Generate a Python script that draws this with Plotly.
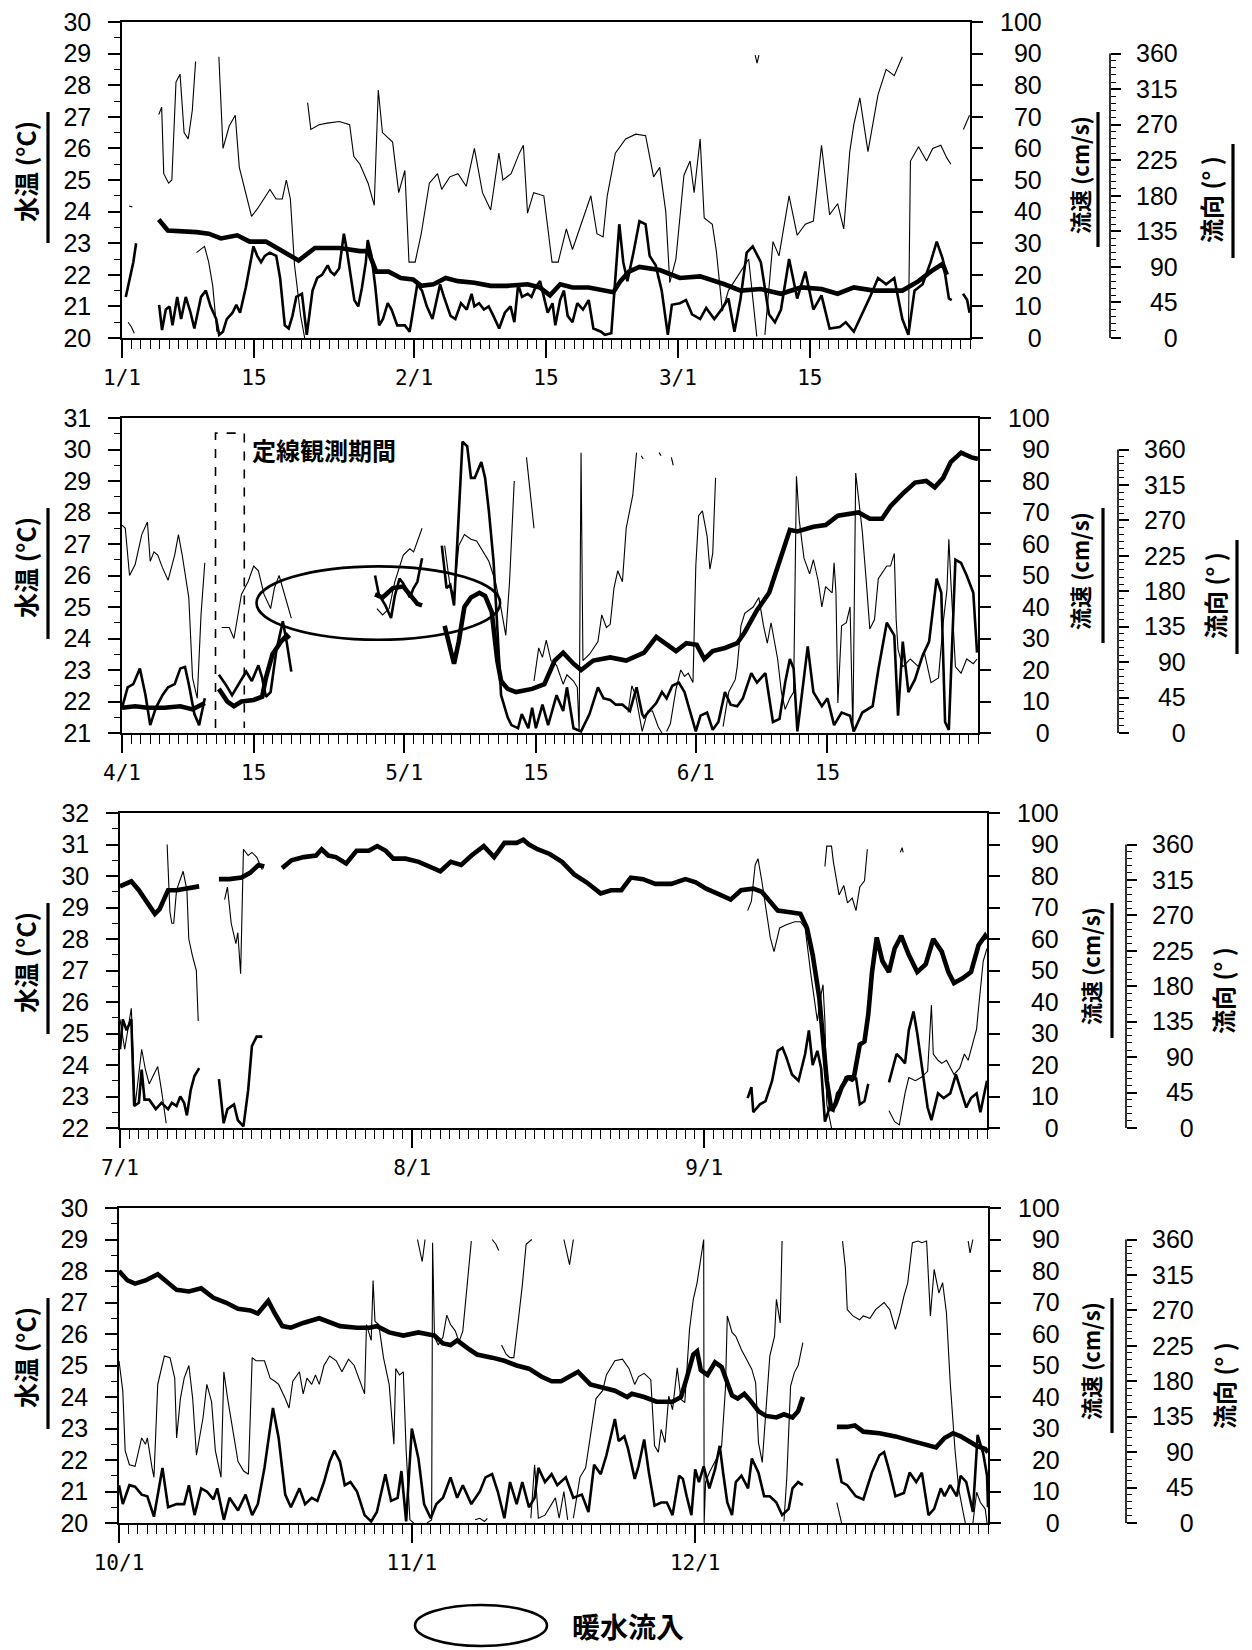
import plotly.graph_objects as go

# ---------------- DATA ----------------
# x = days since first day of quarter; gaps marked with None
p1_ticks = [0, 14, 31, 45, 59, 73]
p1_ticktext = ["1/1", "15", "2/1", "15", "3/1", "15"]
p2_ticks = [0, 14, 30, 44, 61, 75]
p2_ticktext = ["4/1", "15", "5/1", "15", "6/1", "15"]
p3_ticks = [0, 31, 62]
p3_ticktext = ["7/1", "8/1", "9/1"]
p4_ticks = [0, 31, 61]
p4_ticktext = ["10/1", "11/1", "12/1"]

temp_ticks_lo = [20, 21, 22, 20]
speed_ticks = [0, 10, 20, 30, 40, 50, 60, 70, 80, 90, 100]
dir_ticks = [0, 45, 90, 135, 180, 225, 270, 315, 360]

# water temperature (deg C)
p1_temp = [(3.90, 23.75), (4.86, 23.4), (7.90, 23.35), (9.20, 23.3), (10.50, 23.15), (12.23, 23.25), (13.54, 23.05),
           (15.27, 23.05), (17.01, 22.75), (18.74, 22.45), (20.48, 22.85), (23.08, 22.85), (25.25, 22.75), (26.12, 22.75),
           (26.98, 22.1), (28.29, 22.1), (29.59, 21.9), (30.89, 21.85), (31.76, 21.65), (33.06, 21.7), (34.36, 21.9),
           (35.66, 21.8), (37.40, 21.75), (39.13, 21.65), (40.87, 21.65), (43.04, 21.7), (44.34, 21.6), (45.42, 21.35),
           (46.51, 21.7), (47.81, 21.6), (49.54, 21.6), (51.28, 21.5), (52.15, 21.45), (52.9, 21.8), (53.8, 22.1),
           (54.92, 22.25), (57.07, 22.15), (59.21, 21.9), (61.36, 21.95), (63.94, 21.7), (65.65, 21.5), (67.8, 21.55),
           (69.94, 21.4), (72.09, 21.6), (74.24, 21.55), (75.95, 21.4), (77.67, 21.6), (79.82, 21.5), (82.82, 21.5),
           (84.54, 21.8), (85.82, 22.1), (87.11, 22.35), (87.54, 22.0)]
p2_temp = [(0, 21.8), (1.4, 21.85), (2.7, 21.8), (4.5, 21.8), (6.2, 21.85), (7.5, 21.75), (8.8, 21.95), None,
           (10.3, 22.4), (11.2, 22.0), (11.9, 21.85), (12.7, 22.0), (14.0, 22.05), (14.9, 22.15), (15.3, 22.75),
           (16.0, 23.5), (16.9, 23.9), (17.5, 24.1), (17.8, 24.0), None,
           (26.9, 25.4), (27.7, 25.3), (28.8, 25.6), (29.9, 25.65), (30.6, 25.4), (31.4, 25.1), (31.9, 25.05), None,
           (34.3, 24.4), (34.9, 23.7), (35.3, 23.2), (35.8, 23.9), (36.4, 25.0), (37.1, 25.3), (38.0, 25.45),
           (38.6, 25.35), (39.3, 24.85), (39.9, 23.3), (40.3, 22.65), (41.0, 22.4), (41.9, 22.3), (43.6, 22.4),
           (44.9, 22.55), (46.0, 23.3), (46.9, 23.55), (48.0, 23.2), (48.8, 23.0), (50.1, 23.3), (51.9, 23.4),
           (53.6, 23.3), (55.5, 23.55), (56.8, 24.05), (57.7, 23.85), (58.9, 23.6), (60.0, 23.85), (61.1, 23.8),
           (61.9, 23.35), (62.8, 23.6), (64.1, 23.7), (65.4, 23.85), (66.2, 24.2), (67.5, 24.9), (68.8, 25.45),
           (70.1, 26.7), (71.0, 27.45), (71.8, 27.4), (72.7, 27.5), (73.5, 27.55), (74.8, 27.6), (76.1, 27.9),
           (78.3, 28.0), (79.5, 27.8), (80.8, 27.8), (81.7, 28.2), (83.0, 28.6), (84.3, 28.95), (85.5, 29.0),
           (86.4, 28.8), (87.3, 29.1), (88.1, 29.6), (89.2, 29.9), (90.3, 29.75), (91.0, 29.7)]
p3_temp = [(0, 29.67), (1.2, 29.83), (2.0, 29.55), (2.9, 29.15), (3.7, 28.8), (4.2, 28.95), (5.1, 29.55), (6.0, 29.55),
           (7.3, 29.6), (8.4, 29.67), None,
           (10.5, 29.9), (11.6, 29.9), (12.9, 29.95), (13.8, 30.1), (14.7, 30.35), (15.3, 30.3), None,
           (17.2, 30.25), (18.2, 30.5), (19.5, 30.6), (20.8, 30.65), (21.4, 30.85), (22.1, 30.65), (22.9, 30.6),
           (24.0, 30.4), (25.1, 30.8), (26.4, 30.8), (27.3, 30.95), (28.2, 30.8), (29.0, 30.55), (30.3, 30.55),
           (31.7, 30.45), (33.0, 30.3), (34.0, 30.15), (35.1, 30.45), (36.2, 30.35), (37.3, 30.65), (38.6, 30.95),
           (39.7, 30.6), (40.8, 31.05), (42.1, 31.05), (42.8, 31.15), (43.4, 31.0), (44.3, 30.85), (45.6, 30.7),
           (46.9, 30.45), (48.2, 30.05), (49.5, 29.8), (51.0, 29.45), (52.1, 29.55), (53.2, 29.55), (54.2, 29.95),
           (55.5, 29.9), (56.8, 29.75), (58.5, 29.75), (60.0, 29.9), (61.1, 29.8), (62.2, 29.6), (63.7, 29.4),
           (64.8, 29.25), (65.9, 29.55), (67.2, 29.6), (68.1, 29.5), (69.0, 29.2), (69.8, 28.9), (71.1, 28.85),
           (72.2, 28.8), (72.9, 28.35), (73.5, 27.5), (74.2, 26.15), (74.6, 24.85), (75.0, 23.5), (75.5, 22.55),
           (75.9, 22.75), (76.6, 23.3), (77.2, 23.6), (77.9, 23.65), (78.5, 24.65), (79.0, 24.75), (79.4, 25.6),
           (79.8, 26.95), (80.3, 28.05), (80.9, 27.3), (81.6, 26.95), (82.2, 27.7), (82.9, 28.1), (83.7, 27.5),
           (84.6, 26.95), (85.5, 27.2), (86.3, 28.0), (87.2, 27.6), (87.9, 26.95), (88.5, 26.6), (89.4, 26.75),
           (90.3, 26.95), (91.1, 27.8), (91.8, 28.1), (92.0, 28.0)]
p4_temp = [(0, 28.0), (0.9, 27.7), (1.7, 27.6), (2.8, 27.7), (4.1, 27.9), (5.2, 27.65), (6.1, 27.4), (7.4, 27.35),
           (8.7, 27.45), (10.0, 27.15), (11.3, 27.0), (12.6, 26.8), (13.9, 26.75), (14.7, 26.65), (15.8, 27.05),
           (16.5, 26.65), (17.3, 26.25), (18.2, 26.2), (19.5, 26.35), (21.2, 26.5), (22.1, 26.4), (23.4, 26.25),
           (25.2, 26.2), (26.5, 26.2), (27.3, 26.25), (28.6, 26.05), (30.1, 25.95), (31.7, 26.05), (33.4, 25.95),
           (34.3, 25.7), (35.1, 25.65), (35.8, 25.8), (36.9, 25.55), (37.9, 25.35), (39.5, 25.25), (40.8, 25.15),
           (42.1, 25.0), (43.4, 24.9), (44.7, 24.65), (45.8, 24.5), (46.8, 24.5), (47.9, 24.7), (48.6, 24.8),
           (49.9, 24.4), (51.2, 24.3), (52.5, 24.2), (53.8, 24.0), (54.3, 24.1), (55.6, 24.0), (56.9, 23.85),
           (58.6, 23.85), (59.5, 24.0), (60.1, 24.6), (60.8, 25.35), (61.2, 25.45), (61.6, 24.85), (62.3, 24.7),
           (63.1, 25.1), (63.8, 24.95), (64.4, 24.4), (64.9, 24.05), (65.5, 23.95), (66.2, 24.1), (66.8, 23.9),
           (67.7, 23.55), (68.5, 23.4), (69.6, 23.35), (70.4, 23.45), (71.3, 23.35), (71.9, 23.55), (72.4, 24.0), None,
           (76.0, 23.05), (77.1, 23.05), (77.9, 23.1), (78.8, 22.9), (80.5, 22.85), (82.2, 22.75), (84.0, 22.6),
           (85.7, 22.45), (86.5, 22.4), (87.4, 22.7), (88.3, 22.85), (89.1, 22.75), (90.0, 22.6), (90.8, 22.45),
           (91.7, 22.35), (92.0, 22.25)]

# current speed (cm/s)
p1_speed = [(0.4, 13), (0.8, 18), (1.2, 24), (1.5, 30), None,
            (3.94, 10.5), (4.25, 2.5), (4.65, 9), (5.05, 10), (5.36, 4), (5.86, 13), (6.27, 6), (6.77, 13), (7.28, 8),
            (7.68, 3), (8.39, 13), (8.9, 15), (9.4, 10), (10.0, 6), (10.31, 1), (10.71, 2), (11.12, 6), (11.73, 8),
            (12.13, 10.5), (12.53, 8), (13.14, 16), (13.65, 24), (13.95, 29), (14.35, 26), (14.76, 24), (15.16, 26),
            (15.67, 27), (16.37, 26), (16.78, 19), (17.28, 4), (17.69, 3), (18.09, 7), (18.5, 13), (19.1, 14),
            (19.61, 1), (20.22, 15), (20.72, 19), (21.23, 20), (21.83, 23), (22.14, 21), (22.54, 20), (23.05, 22),
            (23.55, 33), (23.85, 28), (24.26, 20), (24.66, 12), (25.07, 10), (25.47, 16), (25.88, 24), (26.08, 31),
            (26.48, 26), (26.89, 16), (27.29, 4), (27.7, 6), (28.2, 11), (28.61, 9), (29.21, 4), (30.02, 4),
            (30.53, 2), (30.83, 8), (31.34, 17), (31.84, 15), (32.35, 10), (32.95, 6), (33.36, 12), (33.76, 17),
            (34.17, 13), (34.87, 7), (35.38, 6), (35.98, 11), (36.59, 9), (37.1, 14), (37.4, 10), (37.9, 11),
            (38.41, 9), (38.92, 10), (39.42, 7), (40.03, 3), (40.63, 8), (41.24, 10), (41.64, 5), (42.05, 17),
            (42.45, 13), (43.06, 14), (43.46, 13), (43.87, 16), (44.37, 18), (44.78, 13), (45.18, 8), (45.69, 11),
            (45.99, 4), (46.5, 12), (46.9, 15), (47.3, 7), (47.81, 5), (48.32, 11), (48.92, 9), (49.53, 12),
            (50.03, 3), (50.84, 2), (51.25, 1), (51.93, 1.5), (52.4, 20), (52.78, 36), (53.2, 24), (53.64, 18),
            (54.28, 27), (54.92, 37), (55.57, 36), (56.0, 26), (56.64, 23), (57.28, 15), (57.93, 1), (58.36, 10.5),
            (59.21, 11), (59.86, 12), (60.5, 7.5), (61.36, 6), (62.0, 9.5), (62.86, 6), (63.5, 8.5), (64.36, 12.5),
            (65.0, 2), (65.65, 12.5), (66.3, 27), (66.94, 29), (67.8, 24), (68.66, 7.5), (69.3, 5), (69.94, 9),
            (70.8, 25), (71.66, 12.5), (72.52, 21), (73.38, 9), (74.24, 13.5), (75.1, 3), (76.17, 3.5), (76.81, 5),
            (77.67, 2), (78.53, 7.5), (79.39, 13), (80.24, 19), (81.1, 17), (81.96, 19), (82.82, 6), (83.46, 1),
            (84.11, 15), (84.97, 17), (85.82, 24), (86.47, 30.5), (87.11, 25), (87.76, 12.5), (88.06, 12), None,
            (89.26, 14), (89.7, 12), (89.95, 8)]
p2_speed = [(0, 8), (0.6, 14.5), (1.2, 15.5), (1.9, 20.5), (2.5, 12), (3.0, 2.5), (3.6, 8), (4.3, 12), (4.9, 14.5),
            (5.6, 15.5), (6.2, 20.5), (6.7, 21), (7.1, 15.5), (7.7, 6), (8.2, 2.5), (8.6, 8), (8.8, 11), None,
            (10.3, 18.5), (11.0, 15.5), (11.7, 12), (12.3, 15), (13.2, 19.5), (13.8, 16.5), (14.5, 21.5), (14.9, 17.5),
            (15.3, 11.5), (15.8, 13), (16.4, 26), (17.1, 35.5), (17.5, 29), (18.0, 19.5), None,
            (26.9, 50), (27.3, 44), (28.0, 40.5), (28.6, 36.5), (29.0, 43.5), (29.5, 49), (29.9, 47.5), (30.6, 43),
            (31.0, 46), (31.4, 48), (31.9, 55.5), None,
            (34.0, 59.5), (34.5, 46), (34.9, 47), (35.3, 40.5), (35.8, 69.5), (36.2, 92.5), (36.7, 91), (37.1, 81),
            (37.5, 81), (38.2, 86), (38.6, 81), (39.0, 70.5), (39.5, 54.5), (39.9, 33.5), (40.3, 12), (41.0, 5),
            (41.4, 2.5), (42.1, 1.5), (42.5, 6), (43.2, 1.5), (43.6, 8), (44.0, 1.5), (44.7, 9), (45.3, 2.5),
            (46.2, 12), (46.9, 7), (47.3, 14.5), (48.0, 1.5), (48.8, 0.5), (49.7, 6), (50.6, 14.5), (51.2, 11),
            (51.9, 10.5), (52.5, 9), (53.2, 9), (54.0, 7), (54.7, 14.5), (55.3, 6), (55.5, 5), (56.2, 7.5),
            (56.8, 9.5), (57.4, 13), (57.9, 11), (58.5, 15), (59.2, 16), (59.8, 13), (60.4, 6.5), (61.0, 0.5),
            (61.5, 5.5), (62.2, 6.5), (62.8, 1), (63.4, 3.5), (64.1, 13), (64.7, 9), (65.4, 8.5), (66.0, 11),
            (66.9, 19), (67.5, 16), (68.4, 19), (68.8, 11), (69.2, 3.5), (69.9, 4.5), (70.5, 16), (71.0, 23.5),
            (71.4, 20.5), (71.8, 0.5), (72.5, 18), (72.9, 27.5), (73.5, 13), (74.4, 8.5), (75.0, 11), (75.7, 2.5),
            (76.5, 6.5), (77.4, 5.5), (77.8, 0.5), (78.7, 6.5), (79.8, 8.5), (80.4, 20), (81.3, 35), (82.1, 31),
            (82.5, 5.5), (83.0, 29), (83.6, 13), (84.3, 17), (85.1, 24.5), (85.8, 29), (86.6, 49), (87.1, 44.5),
            (87.5, 3.5), (87.9, 1), (88.6, 55), (89.2, 54), (89.8, 50), (90.5, 44.5), (90.9, 25.5)]
p3_speed = [(0, 25), (0.3, 34.5), (0.7, 31), (1.2, 34.5), (1.5, 7), (2.0, 8), (2.3, 18.5), (2.6, 9), (3.1, 9),
            (3.8, 6), (4.4, 8), (5.1, 6), (5.5, 8), (6.0, 7), (6.4, 10), (6.8, 8), (7.1, 4), (7.5, 12), (7.9, 16.5),
            (8.4, 19), None,
            (10.5, 15.5), (11.0, 1.5), (11.4, 6), (12.1, 7.5), (12.5, 2.5), (13.1, 0.5), (13.6, 12), (14.0, 26),
            (14.5, 29), (15.1, 29), None,
            (66.6, 9.5), (67.0, 13), (67.2, 5), (67.9, 7.5), (68.5, 8.5), (69.2, 15), (69.8, 24.5), (70.3, 25.5),
            (70.7, 22.5), (71.3, 17), (72.0, 15), (72.7, 23.5), (73.1, 31), (73.5, 20), (74.0, 24.5), (74.4, 19),
            (74.8, 2), (75.3, 6.5), (75.7, 5.5), (76.1, 11), (76.6, 13), (77.0, 16), (77.7, 15), (78.1, 16),
            (78.5, 7.5), (79.0, 8.5), (79.4, 14), None,
            (81.6, 14.5), (82.0, 19), (82.4, 23.5), (82.9, 22), (83.3, 20.5), (83.7, 31), (84.2, 37), (84.6, 30),
            (85.0, 21.5), (85.7, 6.5), (86.1, 2.5), (86.8, 11), (87.4, 9.5), (88.1, 11), (88.7, 17), (89.1, 13),
            (89.8, 6.5), (90.3, 9.5), (90.9, 11), (91.3, 5), (91.8, 13), (92.0, 15)]
p4_speed = [(0, 12), (0.4, 6), (1.1, 12), (1.7, 11.5), (2.4, 9), (3.0, 8.5), (3.7, 2), (4.6, 17.5), (5.2, 5), (6.1, 6),
            (6.9, 6), (7.4, 12), (8.0, 2.5), (8.7, 11), (9.3, 10), (10.0, 7.5), (10.4, 11), (11.1, 1), (11.7, 8),
            (12.6, 4), (13.4, 9), (14.1, 2.5), (14.7, 6), (15.4, 17.5), (16.3, 36.5), (16.9, 27), (17.6, 9), (18.2, 5),
            (19.1, 11), (19.7, 6), (20.4, 8), (21.0, 7), (21.7, 13), (22.3, 19.5), (22.8, 23), (23.4, 19.5),
            (23.9, 12), (24.5, 13), (25.2, 10), (26.0, 2.5), (26.7, 0.5), (27.3, 3.5), (28.2, 15.5), (28.8, 7),
            (29.5, 8), (29.9, 16.5), (30.4, 0.5), (31.0, 30), (31.7, 20.5), (32.3, 6), (33.0, 1.5), (33.6, 6),
            (34.3, 8), (35.1, 14.5), (35.8, 8), (36.4, 12), (37.3, 6), (38.2, 10), (38.8, 14.5), (39.5, 15.5),
            (40.1, 10), (40.8, 1.5), (41.4, 13), (42.1, 6), (42.7, 13), (43.4, 5), (44.0, 8), (44.4, 17.5),
            (45.1, 13), (45.8, 15.5), (46.4, 12), (47.3, 14.5), (48.1, 8), (49.0, 9), (49.7, 3.5), (50.3, 18.5),
            (51.0, 15.5), (51.6, 21.5), (52.5, 33), (52.9, 26), (53.5, 27.5), (53.9, 23.5), (54.6, 14), (55.0, 18),
            (55.6, 26.5), (56.1, 16), (56.7, 5.5), (57.4, 6.5), (58.0, 6.5), (58.6, 2.5), (59.3, 15), (59.7, 14),
            (60.1, 8.5), (60.6, 2.5), (61.0, 17), (61.4, 13), (61.9, 18), (62.5, 11), (63.1, 17), (63.6, 24.5),
            (64.0, 15), (64.4, 6.5), (64.9, 2.5), (65.3, 13), (65.9, 15), (66.6, 11), (67.0, 20.5), (67.7, 16),
            (68.3, 8.5), (68.9, 8.5), (69.6, 6.5), (70.2, 2.5), (70.9, 4.5), (71.3, 11), (71.9, 13), (72.4, 12), None,
            (76.0, 20.5), (76.5, 13), (77.1, 12), (78.0, 8.5), (78.8, 7.5), (79.7, 16), (80.5, 21.5), (81.0, 22.5),
            (81.6, 16), (82.2, 8.5), (83.1, 9.5), (83.7, 16), (84.4, 13), (85.0, 16), (85.7, 2.5), (86.3, 4.5),
            (87.0, 11), (87.4, 8.5), (88.0, 12), (88.7, 8.5), (89.1, 15), (89.7, 13), (90.4, 3.5), (90.9, 28),
            (91.5, 22), (91.9, 15), (92.0, 5)]

# current direction (deg)
p1_dir = [(0.65, 20), (1.0, 14), (1.3, 6), None, (0.74, 167), (1.1, 166), None,
          (3.90, 283), (4.21, 292), (4.43, 208), (4.95, 196), (5.29, 200), (5.73, 324), (6.16, 334), (6.59, 260),
          (7.03, 252), (7.46, 288), (7.81, 350), None,
          (7.9, 108), (8.33, 112), (8.76, 116), (9.2, 96), (9.63, 66), (10.07, 8), None,
          (10.28, 356), (10.72, 240), (11.37, 268), (12.02, 282), (12.45, 216), (13.1, 184), (13.75, 154),
          (14.4, 164), (15.05, 176), (15.7, 188), (16.36, 176), (17.01, 176), (17.44, 200), (17.87, 176),
          (18.31, 92), (18.96, 28), (19.39, 0), None,
          (19.7, 298), (20.04, 264), (20.91, 270), (21.78, 272), (23.08, 274), (24.16, 270), (24.6, 230),
          (25.25, 220), (26.12, 196), (26.77, 168), (27.2, 314), (27.64, 260), (28.72, 248), (29.37, 184),
          (30.02, 212), (30.46, 96), (31.11, 96), (31.76, 132), (32.62, 196), (33.49, 208), (33.93, 188),
          (34.79, 204), (35.66, 208), (36.53, 192), (37.4, 240), (38.26, 184), (39.13, 162), (40.0, 234),
          (40.43, 200), (41.3, 208), (42.17, 234), (42.6, 244), (43.04, 158), (43.69, 184), (44.77, 180),
          (45.64, 96), (46.29, 96), (47.16, 138), (47.81, 112), (48.68, 142), (49.76, 180), (50.41, 132),
          (51.06, 128), (51.5, 180), (52.36, 234), (53.45, 252), (54.53, 258), (55.57, 256), (56.42, 204),
          (57.07, 216), (57.71, 160), (58.14, 70), (58.79, 100), (59.64, 206), (60.29, 224), (60.72, 184),
          (61.36, 252), (61.79, 152), (62.65, 144), (63.08, 110), (63.72, 34), (64.36, 60), (65.65, 84),
          (66.51, 100), (67.37, 2), None,
          (67.2, 358), (67.4, 348), (67.6, 358), None,
          (68.23, 4), (69.09, 122), (69.73, 104), (70.8, 180), (71.66, 130), (72.52, 144), (73.38, 148),
          (74.24, 244), (75.1, 156), (75.95, 170), (76.6, 138), (77.24, 236), (77.67, 270), (78.31, 304),
          (79.17, 236), (80.24, 308), (81.1, 340), (81.96, 332), (82.82, 356), None,
          (83.46, 4), (83.68, 224), (84.54, 242), (85.39, 224), (86.04, 240), (86.9, 244), (87.54, 228),
          (87.97, 220), None,
          (89.3, 264), (89.95, 282)]
p2_dir = [(0, 264), (0.35, 260), (0.8, 200), (1.4, 214), (2.1, 252), (2.7, 268), (3.0, 218), (3.4, 230), (3.8, 226),
          (4.3, 210), (4.9, 194), (5.6, 226), (6.0, 252), (6.4, 226), (7.1, 172), (7.5, 70), (8.0, 44), (8.4, 150),
          (8.8, 216), None,
          (10.6, 134), (11.4, 134), (11.9, 120), (12.3, 150), (12.7, 176), (13.4, 192), (14.0, 212), (14.5, 206),
          (15.1, 176), (15.8, 158), (16.2, 184), (16.7, 200), (17.3, 176), (18.0, 146), None,
          (27.1, 158), (27.7, 150), (28.4, 158), (29.0, 192), (29.9, 226), (30.6, 234), (31.0, 230), (31.9, 260), None,
          (34.3, 238), (34.9, 184), (35.3, 176), (35.8, 238), (36.4, 252), (37.1, 246), (37.7, 244), (38.3, 232),
          (39.0, 218), (39.7, 192), (40.3, 158), (40.8, 124), (41.2, 192), (41.7, 320), None,
          (43.0, 350), (43.6, 286), (43.8, 260), None,
          (43.8, 66), (44.3, 108), (44.7, 96), (45.1, 118), (45.6, 92), (46.2, 86), (46.9, 62), (47.3, 74),
          (48.0, 66), (48.4, 58), (48.6, 2), (48.8, 356), (49.0, 92), (49.7, 100), (50.6, 116), (51.0, 150),
          (51.5, 134), (51.9, 138), (52.3, 184), (52.7, 206), (53.2, 192), (53.6, 260), (54.3, 302), (54.7, 356), None,
          (55.2, 352), (55.4, 348), None, (57.1, 356), (57.3, 352), None, (58.4, 350), (58.6, 340), None,
          (53.8, 26), (54.2, 60), (54.6, 48), (55.3, 2), (55.9, 28), (56.4, 28), (57.0, 8), (57.4, 0), None,
          (57.9, 2), (58.3, 12), (58.9, 56), (59.4, 80), (59.8, 72), (60.2, 76), (60.7, 64), (61.0, 212), (61.3, 276),
          (61.7, 282), (62.2, 250), (62.5, 208), (62.8, 228), (63.1, 324), None,
          (63.9, 8), (64.5, 52), (65.2, 68), (65.4, 84), (65.8, 136), (66.2, 152), (67.1, 160), (67.7, 172),
          (68.2, 136), (68.6, 114), (69.0, 140), (69.7, 94), (70.1, 52), (70.5, 30), (71.0, 44), (71.4, 52),
          (71.7, 326), (72.0, 270), (72.5, 222), (73.1, 202), (73.5, 220), (74.0, 194), (74.4, 160), (74.8, 186),
          (75.5, 178), (75.7, 216), (75.9, 178), (76.1, 38), (76.5, 136), (77.0, 140), (77.4, 160), (77.7, 2),
          (78.0, 330), (78.7, 256), (79.1, 196), (79.5, 132), (80.0, 144), (80.4, 196), (81.3, 212), (81.7, 212),
          (82.1, 228), (82.3, 144), (82.5, 106), (83.0, 84), (83.8, 94), (84.7, 84), (85.3, 102), (86.0, 64),
          (86.8, 70), (87.3, 140), (87.7, 182), (87.9, 246), (88.1, 196), (88.6, 84), (89.2, 76), (89.8, 94),
          (90.5, 88), (90.9, 94)]
p3_dir = [(0, 138), (0.5, 100), (1.2, 152), (1.6, 28), (2.3, 100), (2.7, 74), (3.1, 56), (4.0, 78), (4.4, 48),
          (4.9, 6), None,
          (5.0, 360), (5.3, 274), (5.5, 260), (5.7, 260), (6.0, 302), (6.4, 316), (6.7, 326), (7.1, 302),
          (7.3, 240), (7.7, 218), (8.1, 200), (8.3, 136), None,
          (11.1, 290), (11.4, 306), (11.8, 260), (12.3, 234), (12.5, 248), (12.8, 196), (12.9, 248), (13.1, 354),
          (13.6, 346), (14.0, 350), (14.5, 344), (15.1, 328), None,
          (66.6, 276), (67.0, 288), (67.4, 334), (67.7, 342), (68.1, 314), (68.5, 284), (69.0, 242), (69.4, 224),
          (70.0, 254), (70.7, 258), (71.6, 262), (72.2, 262), (72.7, 254), (73.3, 196), (74.0, 136), (74.4, 170),
          (74.6, 182), (74.8, 136), (75.0, 30), (75.5, 0), None,
          (74.8, 332), (75.0, 358), (75.5, 358), (75.7, 338), (76.3, 296), (76.8, 308), (77.2, 286), (77.7, 292),
          (78.1, 276), (78.5, 306), (79.0, 314), (79.3, 354), None,
          (82.8, 350), (83.0, 356), (83.1, 350), None,
          (81.6, 22), (82.2, 8), (82.7, 4), (83.3, 44), (83.7, 64), (84.4, 60), (85.0, 64), (85.7, 72), (86.1, 156),
          (86.3, 94), (86.8, 86), (87.2, 82), (87.7, 86), (88.5, 68), (89.1, 76), (89.6, 94), (90.0, 86),
          (90.5, 110), (90.9, 126), (91.1, 152), (91.6, 212), (92.0, 228)]
p4_dir = [(0, 206), (0.4, 168), (0.65, 92), (1.1, 74), (1.7, 72), (2.2, 100), (2.4, 108), (2.8, 100), (3.0, 108),
          (3.5, 70), (3.7, 58), (4.1, 176), (4.8, 212), (5.4, 210), (5.9, 184), (6.1, 108), (6.5, 158), (6.9, 184),
          (7.4, 200), (7.8, 158), (8.2, 86), (8.9, 134), (9.3, 176), (9.8, 154), (10.2, 92), (10.8, 58),
          (11.1, 192), (11.5, 158), (12.1, 116), (12.6, 78), (13.2, 66), (13.7, 62), (14.1, 210), (14.5, 206),
          (15.4, 206), (16.0, 184), (16.5, 180), (16.9, 176), (17.6, 158), (18.0, 146), (18.4, 180), (19.1, 192),
          (19.5, 164), (19.9, 184), (20.4, 176), (20.8, 188), (21.2, 176), (21.7, 200), (22.3, 212), (23.0, 206),
          (23.6, 192), (24.3, 208), (24.9, 200), (25.6, 176), (26.0, 164), (26.2, 252), (26.7, 232), (26.9, 308),
          (27.1, 256), (27.5, 252), (28.0, 210), (28.6, 176), (29.1, 100), (29.3, 196), (29.7, 188), (30.1, 192),
          (30.4, 92), (30.8, 4), (31.2, 0), None,
          (31.6, 360), (32.1, 332), (32.4, 360), None,
          (32.6, 0), (33.1, 4), (33.2, 356), (33.4, 236), (33.8, 226), (34.3, 236), (34.7, 264), (35.1, 252),
          (35.6, 244), (36.0, 230), (36.4, 244), (36.9, 312), (37.3, 358), None,
          (39.5, 360), (39.9, 354), (40.2, 346), None,
          (37.7, 4), (38.2, 6), (38.7, 2), (39.0, 6), None,
          (40.5, 226), (41.0, 214), (41.4, 210), (41.8, 210), (42.3, 260), (42.7, 302), (43.1, 354), (43.7, 360), None,
          (43.6, 6), (44.0, 74), (44.4, 6), (45.1, 10), (45.8, 24), (46.2, 32), (46.6, 6), (47.1, 40), (47.5, 4), None,
          (47.1, 360), (47.7, 328), (48.1, 360), None,
          (48.1, 6), (48.8, 58), (49.4, 70), (49.9, 112), (50.5, 158), (51.2, 168), (51.6, 188), (52.5, 206),
          (53.3, 208), (54.0, 196), (54.6, 176), (55.0, 186), (55.6, 190), (56.3, 182), (56.7, 98), (57.1, 90),
          (57.4, 119), (57.8, 102), (58.2, 161), (58.6, 144), (59.1, 197), (59.5, 157), (59.9, 153), (60.4, 246),
          (60.8, 284), (61.2, 305), (61.6, 334), (61.9, 360), (61.95, 0), (62.1, 52), (62.5, 64), (63.4, 85),
          (63.8, 98), (64.2, 170), (64.4, 263), (64.9, 242), (65.3, 237), (65.9, 220), (66.6, 204), (67.0, 195),
          (67.4, 178), (67.7, 102), (68.1, 77), (68.5, 144), (68.9, 212), (69.4, 237), (69.6, 284), (70.0, 254),
          (70.2, 358), None,
          (70.4, 2), (70.7, 58), (71.1, 174), (71.5, 191), (71.9, 200), (72.4, 229), None,
          (76.0, 26), (76.5, 0), None,
          (76.6, 358), (76.9, 324), (77.1, 271), (77.7, 263), (78.4, 258), (78.8, 263), (79.5, 260), (80.1, 271),
          (81.0, 280), (81.6, 271), (82.2, 246), (82.7, 267), (83.1, 288), (83.5, 305), (84.0, 356), (84.6, 358),
          (85.0, 356), (85.5, 358), (85.9, 263), (86.3, 322), (86.8, 292), (87.2, 305), (87.6, 267), (88.0, 178),
          (88.5, 94), (88.9, 43), (89.3, 18), (89.6, 0), None,
          (89.9, 358), (90.1, 343), (90.4, 360), None,
          (90.4, 0), (90.8, 39), (91.2, 26), (91.7, 18), (91.9, 0)]

# survey period box (panel 2, days / deg C) and warm-water ellipse
survey_x = [9.94, 13.0]
survey_y = [21.16, 30.52]
warm_x = [14.3, 40.2]
warm_y = [23.96, 26.29]

# ---------------- FIGURE ----------------
W, H = 1252, 1650
OFF = 8  # page body margin of the HTML page (px)
BLACK = "black"
NUM_FONT = dict(family="Liberation Sans, Arial, sans-serif", size=25, color=BLACK)
DATE_FONT = dict(family="DejaVu Sans Mono, monospace", size=21, color=BLACK)
JP = "Noto Sans CJK JP"

panels = [
    dict(x0=122, x1=970, top=22, bot=338, n=90, lo=temp_ticks_lo[0], tv=p1_ticks, tt=p1_ticktext,
         dirx=1110, st=1079, sb=1098, dt=1211, db=1233, data=(p1_temp, p1_speed, p1_dir)),
    dict(x0=122, x1=978, top=418, bot=733, n=91, lo=temp_ticks_lo[1], tv=p2_ticks, tt=p2_ticktext,
         dirx=1118, st=1079, sb=1103, dt=1214, db=1237, data=(p2_temp, p2_speed, p2_dir)),
    dict(x0=120, x1=987, top=813, bot=1128, n=92, lo=temp_ticks_lo[2], tv=p3_ticks, tt=p3_ticktext,
         dirx=1126, st=1090, sb=1112, dt=1223, db=1249, data=(p3_temp, p3_speed, p3_dir)),
    dict(x0=119, x1=988, top=1208, bot=1523, n=92, lo=temp_ticks_lo[3], tv=p4_ticks, tt=p4_ticktext,
         dirx=1126, st=1090, sb=1112, dt=1223, db=1249, data=(p4_temp, p4_speed, p4_dir)),
]


def split(pairs):
    xs, ys = [], []
    for p in pairs:
        if p is None:
            xs.append(None); ys.append(None)
        else:
            xs.append(p[0]); ys.append(p[1])
    return xs, ys


def px(x):
    return (x - OFF) / W


def py(y):
    return 1 - (y - OFF) / H


def pad3(v):
    return f"{v:>3}".replace(" ", "\u2007")


fig = go.Figure()
layout = dict(width=W, height=H, margin=dict(l=0, r=0, t=0, b=0, pad=0, autoexpand=False), autosize=False,
              paper_bgcolor="white", plot_bgcolor="rgba(0,0,0,0)", showlegend=False)
shapes, annotations = [], []

for i, p in enumerate(panels):
    xb, xt = 2 * i + 1, 2 * i + 2
    yt, ys, yd = 3 * i + 1, 3 * i + 2, 3 * i + 3
    xbn = "x" if xb == 1 else f"x{xb}"
    ytn = "y" if yt == 1 else f"y{yt}"
    dom_x = [px(p["x0"]), px(p["x1"])]
    dom_y = [py(p["bot"]), py(p["top"])]
    lo = p["lo"]

    layout["xaxis" if xb == 1 else f"xaxis{xb}"] = dict(
        domain=dom_x, range=[0, p["n"]], anchor=ytn, showgrid=False, zeroline=False, automargin=False,
        showline=True, linecolor=BLACK, linewidth=1.6, mirror=True, ticklabeloverflow="allow",
        tickmode="array", tickvals=p["tv"], ticktext=p["tt"], ticks="outside", ticklen=18, tickwidth=1.6,
        tickcolor=BLACK, tickfont=DATE_FONT, ticklabelstandoff=2,
        minor=dict(tickmode="linear", tick0=0, dtick=1, ticks="outside", ticklen=9, tickwidth=1.1, tickcolor=BLACK))
    layout[f"xaxis{xt}"] = dict(
        overlaying=xbn, side="top", anchor=ytn, range=[0, p["n"]], showgrid=False, zeroline=False,
        automargin=False, showline=False, tickmode="linear", tick0=0, dtick=1, ticks="outside", ticklen=10,
        tickwidth=1.1, tickcolor=BLACK, showticklabels=False)
    layout["yaxis" if yt == 1 else f"yaxis{yt}"] = dict(
        domain=dom_y, range=[lo, lo + 10], anchor=xbn, showgrid=False, zeroline=False, automargin=False,
        showline=True, linecolor=BLACK, linewidth=1.6, mirror=True, ticklabeloverflow="allow",
        tickmode="linear", tick0=lo, dtick=1, ticks="outside", ticklen=12, tickwidth=1.6, tickcolor=BLACK,
        tickfont=NUM_FONT, ticklabelstandoff=12,
        minor=dict(tickmode="linear", tick0=lo, dtick=0.5, ticks="outside", ticklen=6, tickwidth=1.1,
                   tickcolor=BLACK))
    layout[f"yaxis{ys}"] = dict(
        overlaying=ytn, side="right", anchor=xbn, range=[0, 100], showgrid=False, zeroline=False,
        automargin=False, showline=False, tickmode="array", tickvals=speed_ticks, ticklabeloverflow="allow",
        ticktext=[pad3(v) for v in speed_ticks],
        ticks="outside", ticklen=12, tickwidth=1.6, tickcolor=BLACK, tickfont=NUM_FONT, ticklabelstandoff=12)
    layout[f"yaxis{yd}"] = dict(
        overlaying=ytn, side="right", anchor="free", position=px(p["dirx"]), range=[0, 400],
        showgrid=False, zeroline=False, automargin=False, showline=False, tickmode="array", tickvals=dir_ticks,
        ticklabeloverflow="allow",
        ticktext=[pad3(v) for v in dir_ticks], ticks="outside", ticklen=10, tickwidth=1.6, tickcolor=BLACK,
        tickfont=NUM_FONT, ticklabelstandoff=10,
        minor=dict(tickmode="array", tickvals=[v for v in range(9, 360, 9) if v % 45],
                   ticks="outside", ticklen=5, tickwidth=1.1, tickcolor=BLACK))

    # direction axis line (only 0-360)
    shapes.append(dict(type="line", xref="paper", yref=f"y{yd}", x0=px(p["dirx"]), x1=px(p["dirx"]),
                       y0=0, y1=360, line=dict(color=BLACK, width=1.6)))

    temp, speed, direc = p["data"]
    dx, dy = split(direc)
    fig.add_trace(go.Scatter(x=dx, y=dy, xaxis=xbn, yaxis=f"y{yd}", mode="lines",
                             line=dict(color=BLACK, width=1.1), connectgaps=False, hoverinfo="skip"))
    sx, sy = split(speed)
    fig.add_trace(go.Scatter(x=sx, y=sy, xaxis=xbn, yaxis=f"y{ys}", mode="lines",
                             line=dict(color=BLACK, width=2.6), connectgaps=False, hoverinfo="skip"))
    tx, ty = split(temp)
    fig.add_trace(go.Scatter(x=tx, y=ty, xaxis=xbn, yaxis=ytn, mode="lines",
                             line=dict(color=BLACK, width=4.6), connectgaps=False, hoverinfo="skip"))

    top = p["top"]
    # left title + bar
    annotations.append(dict(xref="paper", yref="paper", x=px(25), y=py(top + 150), text="<b>水温 (°C)</b>",
                            textangle=-90, showarrow=False, xanchor="center", yanchor="middle",
                            font=dict(family=JP, size=25, color=BLACK)))
    shapes.append(dict(type="line", xref="paper", yref="paper", x0=px(48), x1=px(48),
                       y0=py(top + 90), y1=py(top + 221), line=dict(color=BLACK, width=3.2)))
    # speed title + bar
    annotations.append(dict(xref="paper", yref="paper", x=px(p["st"]), y=py(top + 153), text="<b>流速 (cm/s)</b>",
                            textangle=-90, showarrow=False, xanchor="center", yanchor="middle",
                            font=dict(family=JP, size=22, color=BLACK)))
    shapes.append(dict(type="line", xref="paper", yref="paper", x0=px(p["sb"]), x1=px(p["sb"]),
                       y0=py(top + 90), y1=py(top + 225), line=dict(color=BLACK, width=3.2)))
    # direction title + bar
    annotations.append(dict(xref="paper", yref="paper", x=px(p["dt"]), y=py(top + 178), text="<b>流向 (° )</b>",
                            textangle=-90, showarrow=False, xanchor="center", yanchor="middle",
                            font=dict(family=JP, size=24, color=BLACK)))
    shapes.append(dict(type="line", xref="paper", yref="paper", x0=px(p["db"]), x1=px(p["db"]),
                       y0=py(top + 122), y1=py(top + 236), line=dict(color=BLACK, width=3.2)))

# panel 2 annotations: survey period box and warm-water ellipse
shapes.append(dict(type="path", xref="x3", yref="y4",
                   path=f"M {survey_x[0]},{survey_y[0]} L {survey_x[0]},{survey_y[1]} "
                        f"L {survey_x[1]},{survey_y[1]} L {survey_x[1]},{survey_y[0]}",
                   line=dict(color=BLACK, width=1.6, dash="dash")))
annotations.append(dict(xref="x3", yref="y4", x=13.65, y=30.0, text="<b>定線観測期間</b>", showarrow=False,
                        xanchor="left", yanchor="middle", font=dict(family=JP, size=24, color=BLACK)))
shapes.append(dict(type="circle", xref="x3", yref="y4", x0=warm_x[0], x1=warm_x[1], y0=warm_y[0], y1=warm_y[1],
                   line=dict(color=BLACK, width=2.6)))

# bottom legend
shapes.append(dict(type="circle", xref="paper", yref="paper", x0=px(415), x1=px(547), y0=py(1646), y1=py(1605),
                   line=dict(color=BLACK, width=2.6)))
annotations.append(dict(xref="paper", yref="paper", x=px(570), y=py(1626), text="<b>暖水流入</b>", showarrow=False,
                        xanchor="left", yanchor="middle", font=dict(family=JP, size=28, color=BLACK)))

layout["shapes"] = shapes
layout["annotations"] = annotations
fig.update_layout(**layout)
fig.write_html("out.html")
